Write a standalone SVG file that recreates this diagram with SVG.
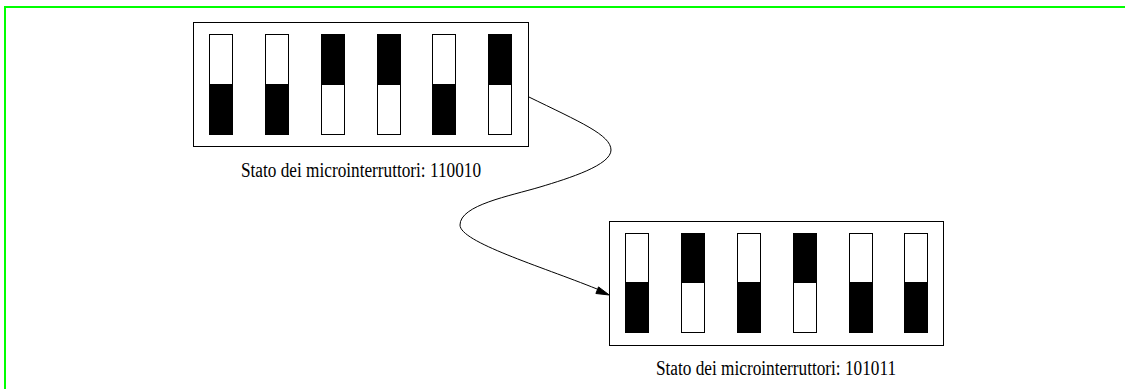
<svg xmlns="http://www.w3.org/2000/svg" width="1125" height="389" viewBox="0 0 1125 389">
<style>
.frame{fill:none;stroke:#00ff00;stroke-width:2}
.box{fill:#fff;stroke:#000;stroke-width:1}
.sw{fill:#fff;stroke:#000;stroke-width:1}
.on{fill:#000;stroke:#000;stroke-width:1}
.lbl{font-family:"Liberation Serif","Times New Roman",serif;font-size:20px;fill:#000;text-anchor:middle}
.edge{fill:none;stroke:#000;stroke-width:1}
</style>
<rect width="1125" height="389" fill="#fff"/>
<path class="frame" d="M5,389 V7 H1125"/>
<g id="node1">
<rect class="box" x="193.5" y="22.5" width="335" height="124"/>
<rect class="sw" x="209.5" y="34.5" width="23" height="100"/>
<rect class="on" x="209.5" y="84.5" width="23" height="50"/>
<rect class="sw" x="265.5" y="34.5" width="23" height="100"/>
<rect class="on" x="265.5" y="84.5" width="23" height="50"/>
<rect class="sw" x="321.5" y="34.5" width="23" height="100"/>
<rect class="on" x="321.5" y="34.5" width="23" height="50"/>
<rect class="sw" x="377.5" y="34.5" width="23" height="100"/>
<rect class="on" x="377.5" y="34.5" width="23" height="50"/>
<rect class="sw" x="432.5" y="34.5" width="23" height="100"/>
<rect class="on" x="432.5" y="84.5" width="23" height="50"/>
<rect class="sw" x="488.5" y="34.5" width="23" height="100"/>
<rect class="on" x="488.5" y="34.5" width="23" height="50"/>
<text class="lbl" x="361" y="176.5" textLength="240" lengthAdjust="spacingAndGlyphs">Stato dei microinterruttori: 110010</text>
</g>
<g id="node2">
<rect class="box" x="609.5" y="221.5" width="334" height="124"/>
<rect class="sw" x="625.5" y="233.5" width="23" height="99"/>
<rect class="on" x="625.5" y="282.5" width="23" height="50"/>
<rect class="sw" x="681.5" y="233.5" width="23" height="99"/>
<rect class="on" x="681.5" y="233.5" width="23" height="49"/>
<rect class="sw" x="737.5" y="233.5" width="23" height="99"/>
<rect class="on" x="737.5" y="282.5" width="23" height="50"/>
<rect class="sw" x="793.5" y="233.5" width="23" height="99"/>
<rect class="on" x="793.5" y="233.5" width="23" height="49"/>
<rect class="sw" x="849.5" y="233.5" width="23" height="99"/>
<rect class="on" x="849.5" y="282.5" width="23" height="50"/>
<rect class="sw" x="904.5" y="233.5" width="23" height="99"/>
<rect class="on" x="904.5" y="282.5" width="23" height="50"/>
<text class="lbl" x="776" y="375" textLength="240" lengthAdjust="spacingAndGlyphs">Stato dei microinterruttori: 101011</text>
</g>
<g id="connectors">
<path class="edge" d="M528.3,96.7 C580,122 611,135 611,150 C611,165 570,178 540,187 C510,196 460,205 460,225 C460,242 540,266 597,289"/>
<polygon points="609.3,295 598.5,286.9 595.9,293.5" fill="#000" stroke="#000" stroke-width="1"/>
</g>
</svg>
